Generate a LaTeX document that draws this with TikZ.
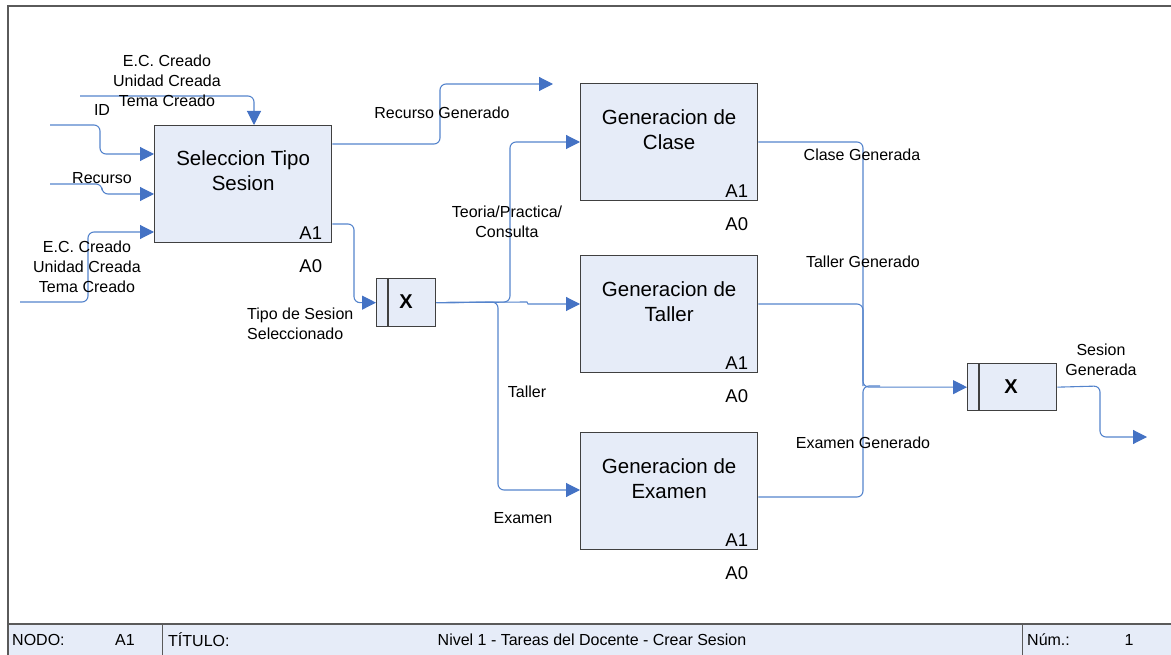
\documentclass[tikz,border=0pt]{standalone}
\usepackage{fontspec}
\setmainfont{Liberation Sans}
\usetikzlibrary{arrows.meta,calc}
\definecolor{boxfill}{HTML}{E6ECF8}
\definecolor{flowblue}{HTML}{4472C4}
\definecolor{linkblue}{HTML}{5584CC}
\definecolor{edgegray}{HTML}{404040}
\definecolor{framegray}{HTML}{5A5A5A}

\begin{document}
\begin{tikzpicture}[x=1pt,y=-1pt,
  proc/.style={draw=edgegray, line width=1.3pt, fill=boxfill,
    minimum width=177pt, minimum height=117pt, anchor=north west, inner sep=0pt},
  junc/.style={draw=edgegray, line width=1.3pt, fill=boxfill,
    anchor=north west, inner sep=0pt},
  proctext/.style={font=\fontsize{20.5}{25}\selectfont, align=center, inner sep=0pt},
  idx/.style={font=\fontsize{18.5}{20}\selectfont, inner sep=0pt, anchor=base east},
  lbl/.style={font=\fontsize{16}{20}\selectfont, align=center, inner sep=0pt},
  foot/.style={font=\fontsize{16}{18}\selectfont, inner sep=0pt},
  xmark/.style={font=\fontsize{20}{22}\selectfont\bfseries, inner sep=0pt},
  flow/.style={draw=linkblue, line width=1.1pt, rounded corners=6pt,
    -{Triangle[length=14pt,width=14pt,color=flowblue]}},
  link/.style={draw=linkblue, line width=1.1pt, rounded corners=6pt}
]
\useasboundingbox (0,0) rectangle (1171,655);

% page frame and title block
\fill[boxfill] (8,624) rectangle (1171,655);
\draw[framegray, line width=1.5pt] (8,655) -- (8,6) -- (1171,6);
\draw[framegray, line width=1.5pt] (8,624) -- (1171,624);
\draw[framegray, line width=1pt] (162,624) -- (162,655);
\draw[framegray, line width=1pt] (1022,624) -- (1022,655);
\node[foot, anchor=west] (fnodo) at (12,640) {NODO:};
\node[foot] (fnodoval) at (125,640) {A1};
\node[foot, anchor=west] (ftit) at (168,640) {TÍTULO:};
\node[foot] (ftitval) at (592,640) {Nivel 1 - Tareas del Docente - Crear Sesion};
\node[foot, anchor=west] (fnum) at (1027,640) {Núm.:};
\node[foot] (fnumval) at (1129,640) {1};

% activity boxes
\node[proc] (sel) at (154,125) {};
\node[proc] (clase) at (580,83) {};
\node[proc] (taller) at (580,255) {};
\node[proc] (exam) at (580,432) {};

\node[proctext] at ($(sel.center)+(0,-13)$) {Seleccion Tipo\\Sesion};
\node[proctext] at ($(clase.center)+(0,-12)$) {Generacion de\\Clase};
\node[proctext] at ($(taller.center)+(0,-12)$) {Generacion de\\Taller};
\node[proctext] at ($(exam.center)+(0,-12)$) {Generacion de\\Examen};

\foreach \b in {sel,clase,taller,exam}{
  \node[idx] at ($(\b.south east)+(-10,-4)$) {A1};
  \node[idx] at ($(\b.south east)+(-10,29)$) {A0};
}

% junctions
\node[junc, minimum width=59pt, minimum height=48pt] (j1) at (376,278) {};
\draw[edgegray, line width=1.3pt] ($(j1.north west)+(12,0)$) -- ($(j1.south west)+(12,0)$);
\node[xmark] at (406,302) {X};
\node[junc, minimum width=89pt, minimum height=47pt] (j2) at (967,363) {};
\draw[edgegray, line width=1.3pt] ($(j2.north west)+(12,0)$) -- ($(j2.south west)+(12,0)$);
\node[xmark] at (1011,387) {X};

% free ends
\coordinate (ctrlin) at (80,96);
\coordinate (idin) at (50,125);
\coordinate (recin) at (50,184);
\coordinate (ecin) at (20,302);
\coordinate (rgout) at (553,84);
\coordinate (sgout) at (1147,437);

% inputs and controls of the selection box
\draw[flow] (ctrlin) -| ($(sel.north west)+(100,0)$);
\draw[flow] (idin) -- (100,125) |- ($(sel.north west)+(0,29)$);
\draw[flow] (recin) -- (102,184) |- ($(sel.north west)+(0,69)$);
\draw[flow] (ecin) -- (88,302) |- ($(sel.north west)+(0,107)$);

% outputs of the selection box
\draw[flow] ($(sel.north east)+(0,19)$) -- (440,144) |- (rgout);
\draw[flow] ($(sel.north east)+(0,99)$) -- (354,224) |- (j1.west);

% branches from the first junction
\draw[flow] (j1.east) -- (510,302) |- ($(clase.north west)+(0,59)$);
\draw[flow, sharp corners] (j1.east) -- (527,302) -- (528,304) -- ($(taller.north west)+(0,49)$);
\draw[flow] (j1.east) -- (498,302) |- ($(exam.north west)+(0,58)$);

% results into the second junction
\draw[flow] ($(clase.north east)+(0,59)$) -- (863,142) |- (j2.west);
\draw[link] ($(taller.north east)+(0,49)$) -- (863,304) -- (863,386);
\draw[link] ($(exam.north east)+(0,65)$) -- (863,497) |- (880,386);
\draw[flow] (j2.east) -- (1100,386) |- (sgout);

% labels
\node[lbl] at (167,81) {E.C. Creado\\Unidad Creada\\Tema Creado};
\node[lbl] at (102,110) {ID};
\node[lbl] at (102,178) {Recurso};
\node[lbl] at (87,267) {E.C. Creado\\Unidad Creada\\Tema Creado};
\node[lbl] at (442,113) {Recurso Generado};
\node[lbl, align=left, anchor=west] at (247,324) {Tipo de Sesion\\Seleccionado};
\node[lbl] at (507,222) {Teoria/Practica/\\Consulta};
\node[lbl] at (527,392) {Taller};
\node[lbl] at (523,518) {Examen};
\node[lbl] at (862,155) {Clase Generada};
\node[lbl] at (863,262) {Taller Generado};
\node[lbl] at (863,443) {Examen Generado};
\node[lbl] at (1101,360) {Sesion\\Generada};
\end{tikzpicture}
\end{document}
